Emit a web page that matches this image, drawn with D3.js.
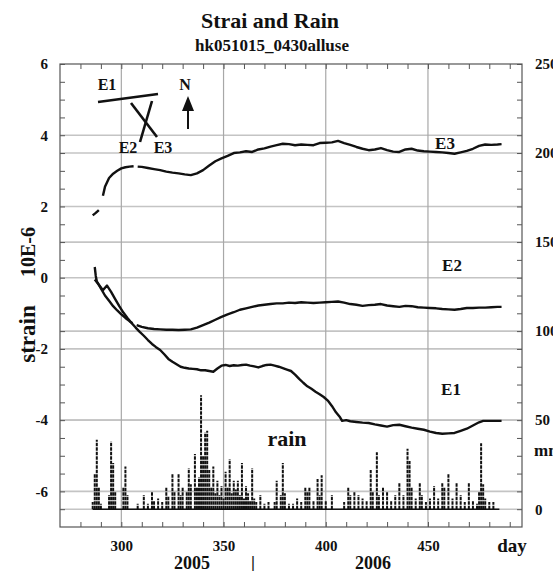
<!DOCTYPE html>
<html>
<head>
<meta charset="utf-8">
<script src="https://cdn.jsdelivr.net/npm/d3@7"></script>
<style>
  body { margin: 0; background: #fff; }
  text { font-family: "Liberation Serif", "DejaVu Serif", serif; font-weight: bold; fill: #111; }
</style>
</head>
<body>
<div class="canvas"></div>
<script>
// strain series (10E-6)
const e3Day = [286, 287.5, 289, 290, 291, 292, 294, 296, 298, 300, 302, 304, 306, 307, 308, 310, 313, 316, 319, 322, 325, 328, 331, 334, 337, 340, 343, 346, 349, 352, 355, 358, 361, 364, 367, 370, 373, 376, 379, 382, 385, 388, 391, 394, 397, 400, 403, 406, 409, 412, 415, 418, 421, 424, 427, 430, 433, 436, 439, 442, 445, 448, 451, 454, 457, 460, 463, 466, 469, 472, 475, 478, 481, 484, 486];
const e3Val = [1.75, 1.82, 1.9, null, 2.3, 2.55, 2.8, 2.92, 3.0, 3.07, 3.1, 3.12, 3.13, null, 3.12, 3.11, 3.08, 3.05, 3.02, 2.98, 2.95, 2.93, 2.9, 2.88, 2.93, 3.02, 3.15, 3.27, 3.35, 3.42, 3.5, 3.52, 3.55, 3.53, 3.6, 3.63, 3.68, 3.72, 3.76, 3.75, 3.72, 3.74, 3.73, 3.72, 3.78, 3.79, 3.8, 3.84, 3.78, 3.73, 3.67, 3.62, 3.58, 3.6, 3.64, 3.58, 3.54, 3.53, 3.6, 3.62, 3.57, 3.55, 3.54, 3.53, 3.52, 3.5, 3.48, 3.52, 3.56, 3.62, 3.7, 3.74, 3.73, 3.74, 3.75];

const e2Day = [287, 287.5, 288, 290, 292, 294, 296, 298, 300, 302, 304, 305.5, 306.5, 307.5, 310, 313, 316, 319, 322, 325, 328, 331, 334, 337, 340, 343, 346, 349, 352, 355, 358, 361, 364, 367, 370, 373, 376, 379, 382, 385, 388, 391, 394, 397, 400, 403, 406, 409, 412, 415, 418, 421, 424, 427, 430, 433, 436, 439, 442, 445, 448, 451, 454, 457, 460, 463, 466, 469, 472, 475, 478, 481, 484, 486];
const e2Val = [0.3, 0.05, -0.1, -0.3, -0.5, -0.65, -0.8, -0.92, -1.03, -1.13, -1.22, -1.28, null, -1.33, -1.38, -1.42, -1.44, -1.45, -1.46, -1.46, -1.47, -1.46, -1.45, -1.4, -1.33, -1.26, -1.18, -1.1, -1.03, -0.97, -0.9, -0.86, -0.82, -0.78, -0.76, -0.74, -0.72, -0.72, -0.7, -0.71, -0.69, -0.7, -0.71, -0.7, -0.69, -0.68, -0.67, -0.7, -0.74, -0.76, -0.79, -0.77, -0.76, -0.74, -0.78, -0.8, -0.82, -0.79, -0.8, -0.83, -0.84, -0.85, -0.86, -0.88, -0.89, -0.9, -0.88, -0.85, -0.85, -0.84, -0.84, -0.83, -0.82, -0.82];

const e1Day = [287, 289, 291, 293, 295, 297, 299, 301, 303, 305, 307, 309, 311, 313, 315, 317, 319, 321, 323, 325, 327, 329, 331, 333, 335, 337, 339, 341, 343, 345, 347, 349, 351, 353, 355, 357, 359, 361, 363, 365, 367, 369, 371, 373, 375, 377, 379, 381, 383, 385, 387, 389, 391, 393, 395, 397, 399, 401, 403, 405, 407, 408, 410, 412, 415, 418, 421, 424, 427, 430, 433, 436, 439, 442, 445, 448, 451, 454, 457, 460, 463, 466, 469, 472, 475, 477, 480, 483, 486];
const e1Val = [-0.05, -0.2, -0.35, -0.22, -0.4, -0.6, -0.8, -0.98, -1.13, -1.27, -1.4, -1.52, -1.63, -1.75, -1.86, -1.95, -2.03, -2.15, -2.28, -2.36, -2.43, -2.5, -2.53, -2.55, -2.56, -2.57, -2.6, -2.6, -2.62, -2.64, -2.55, -2.47, -2.45, -2.48, -2.46, -2.47, -2.45, -2.44, -2.47, -2.49, -2.52, -2.48, -2.45, -2.44, -2.47, -2.5, -2.54, -2.58, -2.62, -2.72, -2.84, -2.95, -3.05, -3.12, -3.2, -3.27, -3.35, -3.45, -3.6, -3.78, -3.92, -4.02, -4.0, -4.03, -4.05, -4.07, -4.08, -4.12, -4.15, -4.18, -4.14, -4.13, -4.17, -4.21, -4.24, -4.27, -4.32, -4.36, -4.38, -4.37, -4.36, -4.3, -4.24, -4.15, -4.06, -4.02, -4.02, -4.02, -4.02];

// rain (mm)
const rainDay = [286, 287, 288, 289, 290, 294, 295, 296, 297, 301, 302, 303, 308, 311, 313, 315, 316, 318, 320, 322, 323, 325, 326, 328, 329, 330, 332, 333, 334, 336, 337, 338, 339, 340, 341, 342, 343, 344, 345, 346, 347, 348, 349, 350, 351, 352, 353, 354, 355, 356, 357, 358, 359, 360, 361, 362, 363, 364, 365, 366, 368, 370, 372, 375, 376, 378, 379, 380, 382, 384, 386, 388, 390, 391, 392, 394, 396, 397, 398, 400, 403, 409, 411, 412, 414, 416, 418, 420, 422, 423, 425, 426, 428, 430, 432, 434, 436, 438, 440, 441, 442, 444, 446, 447, 449, 451, 453, 455, 457, 458, 460, 462, 464, 466, 468, 470, 472, 474, 475, 476, 477, 478, 480, 482];
const rainMm = [4, 20, 39, 12, 3, 8, 38, 26, 10, 12, 24, 8, 3, 8, 3, 10, 5, 6, 4, 12, 7, 20, 10, 20, 8, 12, 10, 23, 14, 31, 12, 18, 64, 30, 43, 44, 22, 12, 24, 9, 16, 8, 13, 6, 21, 12, 28, 9, 16, 11, 16, 8, 26, 6, 13, 9, 5, 23, 6, 4, 8, 3, 4, 4, 16, 8, 26, 9, 3, 3, 6, 4, 12, 10, 12, 5, 17, 8, 19, 5, 8, 4, 12, 8, 10, 8, 6, 5, 22, 10, 32, 8, 12, 10, 5, 8, 15, 8, 34, 27, 12, 6, 15, 8, 4, 6, 13, 6, 15, 12, 20, 6, 15, 8, 4, 15, 5, 3, 10, 37, 14, 6, 4, 4];

const strainTicks = [-6, -4, -2, 0, 2, 4, 6];
const rainTicks = [0, 50, 100, 150, 200, 250];
const dayTicks = [300, 350, 400, 450];
const seriesLabels = ['E1', 'E2', 'E3'];

const W = 553, H = 571;
const box = {left: 60, right: 522, top: 64, bottom: 527};

const svg = d3.select('.canvas')
    .append('svg')
    .attr('width', W)
    .attr('height', H);

const x = d3.scaleLinear().domain([270, 496]).range([box.left, box.right]);
const yL = d3.scaleLinear().domain([-7, 6]).range([box.bottom, box.top]);
const yR = d3.scaleLinear().domain([-10, 250]).range([box.bottom, box.top]);

// grid
const grid = svg.append('g');
grid.selectAll('.hl')
    .data(strainTicks.filter(d => d < 6).map(d => yL(d)).concat(rainTicks.filter(d => d < 250).map(d => yR(d))))
    .enter().append('line')
    .attr('x1', box.left).attr('x2', box.right)
    .attr('y1', d => d).attr('y2', d => d)
    .attr('stroke', '#c4c4c4')
    .attr('stroke-width', 1.6);

grid.selectAll('.vl')
    .data(dayTicks)
    .enter().append('line')
    .attr('x1', d => x(d)).attr('x2', d => x(d))
    .attr('y1', box.top).attr('y2', box.bottom)
    .attr('stroke', '#a8a8a8')
    .attr('stroke-width', 1.2);

// axes
const styleAxis = g => {
    g.select('.domain').remove();
    g.selectAll('line').attr('stroke', '#555');
    g.selectAll('text').attr('font-size', 15).attr('font-family', '"Liberation Serif", serif').attr('font-weight', 'bold').attr('fill', '#111');
};

svg.append('g')
    .attr('transform', `translate(${box.left},0)`)
    .call(d3.axisLeft(yL).tickValues(d3.range(-6.5, 6.01, 0.5)).tickSize(-5).tickPadding(12)
        .tickFormat(d => strainTicks.includes(d) ? String(d) : ''))
    .call(styleAxis);

svg.append('g')
    .attr('transform', `translate(${box.right},0)`)
    .call(d3.axisRight(yR).tickValues(d3.range(0, 251, 10)).tickSize(-5).tickPadding(13)
        .tickFormat(d => rainTicks.includes(d) ? String(d) : ''))
    .call(styleAxis);

svg.append('g')
    .attr('transform', `translate(0,${box.bottom})`)
    .call(d3.axisBottom(x).tickValues(d3.range(280, 491, 10)).tickSize(-5).tickPadding(13)
        .tickFormat(d => dayTicks.includes(d) ? String(d) : ''))
    .call(styleAxis);

svg.append('g')
    .attr('transform', `translate(0,${box.top})`)
    .call(d3.axisTop(x).tickValues(d3.range(280, 491, 10)).tickSize(-5).tickFormat(''))
    .call(styleAxis);

svg.append('rect')
    .attr('x', box.left).attr('y', box.top)
    .attr('width', box.right - box.left).attr('height', box.bottom - box.top)
    .attr('fill', 'none')
    .attr('stroke', '#555')
    .attr('stroke-width', 1.2);

// rain
svg.append('line')
    .attr('x1', x(rainDay[0])).attr('x2', x(rainDay[rainDay.length - 1]) + 6)
    .attr('y1', yR(0)).attr('y2', yR(0))
    .attr('stroke', '#111').attr('stroke-width', 1.5);

svg.append('g').selectAll('line')
    .data(rainDay.map((d, i) => ({day: d, mm: rainMm[i]})))
    .enter().append('line')
    .attr('x1', d => x(d.day)).attr('x2', d => x(d.day))
    .attr('y1', yR(0)).attr('y2', d => yR(d.mm))
    .attr('stroke', '#111')
    .attr('stroke-width', 2)
    .attr('stroke-dasharray', '3.5,1');

// strain curves
const line = d3.line()
    .defined(d => d.v !== null)
    .x(d => x(d.day))
    .y(d => yL(d.v));

[[e1Day, e1Val], [e2Day, e2Val], [e3Day, e3Val]].forEach(([days, vals]) => {
    svg.append('path')
        .datum(days.map((d, i) => ({day: d, v: vals[i]})))
        .attr('d', line)
        .attr('fill', 'none')
        .attr('stroke', '#111')
        .attr('stroke-width', 2.4)
        .attr('stroke-linejoin', 'round');
});

// series labels
const labelPos = {E1: [451, -3.3], E2: [452, 0.2], E3: [445, 3.6]};
seriesLabels.forEach(s => {
    svg.append('text')
        .attr('x', labelPos[s][0])
        .attr('y', yL(labelPos[s][1]))
        .attr('text-anchor', 'middle')
        .attr('font-size', 17)
        .text(s);
});

svg.append('text')
    .attr('x', 287).attr('y', 446)
    .attr('text-anchor', 'middle')
    .attr('font-size', 22)
    .text('rain');

// orientation sketch
const sketch = svg.append('g').attr('stroke', '#111').attr('stroke-width', 2.6);
sketch.append('line').attr('x1', 98).attr('y1', 102).attr('x2', 158).attr('y2', 94);
sketch.append('line').attr('x1', 152).attr('y1', 101).attr('x2', 140).attr('y2', 142);
sketch.append('line').attr('x1', 131).attr('y1', 103).attr('x2', 157).attr('y2', 137);
sketch.append('line').attr('x1', 188).attr('y1', 129).attr('x2', 188).attr('y2', 108).attr('stroke-width', 2);
svg.append('path').attr('d', 'M188,96 L182,111 L194,111 Z').attr('fill', '#111');

[['E1', 107, 90], ['E2', 128, 153], ['E3', 163, 153], ['N', 185, 90]].forEach(([t, tx, ty]) => {
    svg.append('text').attr('x', tx).attr('y', ty)
        .attr('text-anchor', 'middle')
        .attr('font-size', 16)
        .text(t);
});

// titles
svg.append('text')
    .attr('x', 270).attr('y', 28)
    .attr('text-anchor', 'middle')
    .attr('font-size', 22)
    .text('Strai and Rain');

svg.append('text')
    .attr('x', 272).attr('y', 51)
    .attr('text-anchor', 'middle')
    .attr('font-size', 17)
    .text('hk051015_0430alluse');

// axis titles
svg.append('text')
    .attr('transform', 'translate(35,334) rotate(-90)')
    .attr('text-anchor', 'middle')
    .attr('font-size', 23)
    .text('strain');

svg.append('text')
    .attr('transform', 'translate(35,252) rotate(-90)')
    .attr('text-anchor', 'middle')
    .attr('font-size', 20)
    .text('10E-6');

svg.append('text')
    .attr('x', 534).attr('y', 456)
    .attr('font-size', 17)
    .text('mm');

svg.append('text')
    .attr('x', 512).attr('y', 552)
    .attr('text-anchor', 'middle')
    .attr('font-size', 19)
    .text('day');

svg.append('text').attr('x', 192).attr('y', 569).attr('text-anchor', 'middle').attr('font-size', 18).text('2005');
svg.append('text').attr('x', 253).attr('y', 569).attr('text-anchor', 'middle').attr('font-size', 18).attr('fill', '#000').text('|');
svg.append('text').attr('x', 373).attr('y', 569).attr('text-anchor', 'middle').attr('font-size', 18).text('2006');
</script>
</body>
</html>
